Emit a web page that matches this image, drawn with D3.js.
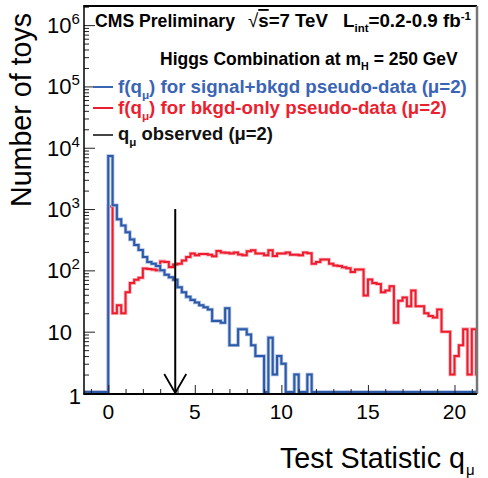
<!DOCTYPE html>
<html>
<head>
<meta charset="utf-8">
<script src="https://cdn.jsdelivr.net/npm/d3@7/dist/d3.min.js"></script>
<style>
  html, body { margin: 0; padding: 0; background: #fff; }
  svg { display: block; font-family: "Liberation Sans", Arial, Helvetica, sans-serif; }
</style>
</head>
<body>
<svg id="chart" width="488" height="478"></svg>
<script>
// ---------------- data ----------------
const binStart = 0;
const binWidth = 0.25;
// f(q_mu) for signal+bkgd pseudo-data (mu=2), counts per bin starting at q=0
const signalBkgd = [7300, 1150, 680, 540, 420, 320, 260, 215, 165, 137, 128, 118, 100, 85, 77, 70,
  53, 44, 37, 33, 30, 27, 25, 23, 15, 15, 14, 24, 6, 6, 11, 11, 9, 6, 4, 4,
  0, 8, 2, 4, 3, 0, 0, 2, 0, 0, 2];
// f(q_mu) for bkgd-only pseudo-data (mu=2)
const bkgdOnly = [1100, 20, 27, 20, 44, 62, 70, 76, 107, 105, 103, 100, 140, 137, 113, 125,
  128, 145, 165, 188, 176, 185, 185, 180, 170, 207, 195, 193, 188, 195, 182, 176,
  205, 213, 188, 188, 176, 213, 172, 188, 188, 195, 180, 180, 176, 195, 190, 128,
  137, 150, 150, 128, 120, 118, 112, 108, 94, 103, 103, 39, 71, 62, 60, 44,
  47, 55, 14, 32, 36, 26, 47, 26, 26, 20, 18, 17, 23, 10, 10, 2, 4, 6,
  11, 2, 11, 2];
const qObserved = 3.87;
const arrowTopValue = 1000;
const xTicksMajor = [0, 5, 10, 15, 20];
const yTickExponents = [0, 1, 2, 3, 4, 5, 6];

// ---------------- layout ----------------
const svg = d3.select("#chart");
const L = 84, R = 477, T = 6, B = 393;
const x = d3.scaleLinear().domain([-1.4, 21.3]).range([L, R]);
const y = d3.scaleLog().domain([1, 2.05e6]).range([B, T]);

const blue = "#2c5aa8", blueHalo = "#a9bde2";
const red = "#ee1c2e", redHalo = "#f8b3b9";

svg.append("defs").append("clipPath").attr("id", "plotclip")
  .append("rect").attr("x", L).attr("y", T).attr("width", R - L).attr("height", B - T + 1);

function histPath(values) {
  const base = B - 1;
  const yy = v => (v >= 1 ? y(v) : base);
  const pts = [[x(x.domain()[0]), base], [x(binStart), base]];
  values.forEach((v, i) => {
    const x0 = x(binStart + i * binWidth), x1 = x(binStart + (i + 1) * binWidth);
    const yv = yy(v);
    pts.push([x0, yv]);
    pts.push([x1, yv]);
  });
  const lastX = x(binStart + values.length * binWidth);
  pts.push([lastX, base]);
  pts.push([x(x.domain()[1]) + 5, base]);
  return d3.line()(pts);
}

const plot = svg.append("g").attr("clip-path", "url(#plotclip)");
plot.append("path").attr("d", histPath(bkgdOnly)).attr("fill", "none")
  .attr("stroke", redHalo).attr("stroke-width", 3.6);
plot.append("path").attr("d", histPath(bkgdOnly)).attr("fill", "none")
  .attr("stroke", red).attr("stroke-width", 2);
plot.append("path").attr("d", histPath(signalBkgd)).attr("fill", "none")
  .attr("stroke", blueHalo).attr("stroke-width", 3.6);
plot.append("path").attr("d", histPath(signalBkgd)).attr("fill", "none")
  .attr("stroke", blue).attr("stroke-width", 2);

// observed arrow
const ax = x(qObserved);
svg.append("line").attr("x1", ax).attr("x2", ax).attr("y1", y(arrowTopValue)).attr("y2", B)
  .attr("stroke", "#000").attr("stroke-width", 2);
svg.append("path").attr("d", d3.line()([[ax - 11, B - 19], [ax, B], [ax + 11, B - 19]]))
  .attr("fill", "none").attr("stroke", "#000").attr("stroke-width", 1.8);

// ---------------- axes ----------------
const yMinor = [];
yTickExponents.forEach(k => { for (let m = 2; m <= 9; m++) { const v = m * Math.pow(10, k); if (v <= y.domain()[1]) yMinor.push(v); } });
const yMajor = yTickExponents.map(k => Math.pow(10, k));

const gyMinor = svg.append("g").attr("transform", `translate(${L},0)`)
  .call(d3.axisRight(y).tickValues(yMinor).tickSize(5).tickFormat(""));
const gyMajor = svg.append("g").attr("transform", `translate(${L},0)`)
  .call(d3.axisRight(y).tickValues(yMajor).tickSize(11).tickFormat(""));
const xMinor = d3.range(-1, 22).filter(v => xTicksMajor.indexOf(v) < 0);
const gxMinor = svg.append("g").attr("transform", `translate(0,${B + 1})`)
  .call(d3.axisTop(x).tickValues(xMinor).tickSize(5).tickFormat(""));
const gxMajor = svg.append("g").attr("transform", `translate(0,${B + 1})`)
  .call(d3.axisTop(x).tickValues(xTicksMajor).tickSize(9).tickFormat(""));
[gyMinor, gyMajor, gxMinor, gxMajor].forEach(g => {
  g.select(".domain").remove();
  g.selectAll(".tick line").attr("stroke", "#222").attr("stroke-width", 1);
});

// frame
svg.append("line").attr("x1", L).attr("x2", L).attr("y1", T).attr("y2", B + 1).attr("stroke", "#000").attr("stroke-width", 1.5);
svg.append("line").attr("x1", L - 0.75).attr("x2", R).attr("y1", T).attr("y2", T).attr("stroke", "#000").attr("stroke-width", 2);
svg.append("line").attr("x1", R).attr("x2", R).attr("y1", T).attr("y2", B + 1).attr("stroke", "#777").attr("stroke-width", 2.5);
svg.append("line").attr("x1", L - 0.75).attr("x2", R).attr("y1", B + 1).attr("y2", B + 1).attr("stroke", "#000").attr("stroke-width", 2);

// fit a text (with tspans) to a target width by scaling every font-size in it
function fit(t, target) {
  const w = t.node().getBBox().width;
  if (!w) return;
  const k = target / w;
  const scale = sel => { const fs = +sel.attr("font-size"); if (fs) sel.attr("font-size", fs * k); };
  scale(t);
  t.selectAll("tspan").each(function () {
    const s = d3.select(this);
    scale(s);
    const dy = s.attr("dy"); if (dy) s.attr("dy", +dy * k);
  });
}

// y tick labels
yTickExponents.forEach(k => {
  const ty = y(Math.pow(10, k)) + 8;
  if (k === 0) {
    svg.append("text").attr("x", 81).attr("y", ty + 3).attr("text-anchor", "end")
      .attr("font-size", 22).text("1");
  } else if (k === 1) {
    svg.append("text").attr("x", 72).attr("y", ty).attr("text-anchor", "end")
      .attr("font-size", 22).text("10");
  } else {
    const t = svg.append("text").attr("x", 47).attr("y", ty).attr("font-size", 22);
    t.append("tspan").text("10");
    t.append("tspan").attr("font-size", 15).attr("dy", -9).text(String(k));
  }
});

// x tick labels
xTicksMajor.forEach(v => {
  svg.append("text").attr("x", x(v)).attr("y", 419).attr("text-anchor", "middle")
    .attr("font-size", 21).text(String(v));
});

// axis titles
const yt = svg.append("text").attr("transform", "translate(31,110) rotate(-90)")
  .attr("text-anchor", "middle").attr("font-size", 28).text("Number of toys");
fit(yt, 194);
const xt = svg.append("text").attr("x", 280).attr("y", 468).attr("font-size", 27).text("Test Statistic q");
fit(xt, 185);
svg.append("text").attr("x", 280 + 185 + 1).attr("y", 475).attr("font-size", 15).text("μ");

// ---------------- header / legend ----------------
const hdr = svg.append("g").attr("font-weight", "bold");
const cms = hdr.append("text").attr("x", 95).attr("y", 27).attr("font-size", 18).text("CMS Preliminary");
fit(cms, 140);
const rs = hdr.append("text").attr("x", 248).attr("y", 27).attr("font-size", 18);
rs.append("tspan").attr("font-weight", "normal").text("√");
rs.append("tspan").attr("text-decoration", "overline").text("s");
rs.append("tspan").text("=7 TeV");
fit(rs, 80);
const lum = hdr.append("text").attr("x", 343).attr("y", 27).attr("font-size", 18);
lum.append("tspan").text("L");
lum.append("tspan").attr("font-size", 11).attr("dy", 5).text("int");
lum.append("tspan").attr("dy", -5).text("=0.2-0.9 fb");
lum.append("tspan").attr("font-size", 11).attr("dy", -7).text("-1");
fit(lum, 128);

const hg = hdr.append("text").attr("x", 160).attr("y", 65).attr("font-size", 18);
hg.append("tspan").text("Higgs Combination at m");
hg.append("tspan").attr("font-size", 11).attr("dy", 5).text("H");
hg.append("tspan").attr("dy", -5).text(" = 250 GeV");
fit(hg, 298);

const legend = [
  { color: "#3a64b4", lineY: 87, textY: 93, width: 349, parts: [["f(q", 0], ["μ", 1], [") for signal+bkgd pseudo-data (μ=2)", 0]] },
  { color: "#ec1f30", lineY: 108, textY: 114, width: 329, parts: [["f(q", 0], ["μ", 1], [") for bkgd-only pseudo-data (μ=2)", 0]] },
  { color: "#111", lineY: 135, textY: 140, width: 155, parts: [["q", 0], ["μ", 1], [" observed (μ=2)", 0]] }
];
legend.forEach(e => {
  svg.append("line").attr("x1", 93).attr("x2", 113).attr("y1", e.lineY).attr("y2", e.lineY)
    .attr("stroke", e.color === "#111" ? "#444" : e.color).attr("stroke-width", 2);
  const t = hdr.append("text").attr("x", 118).attr("y", e.textY).attr("font-size", 19).attr("fill", e.color);
  let sub = false;
  e.parts.forEach(([s, isSub]) => {
    const ts = t.append("tspan").text(s);
    if (isSub && !sub) { ts.attr("font-size", 12).attr("dy", 6); sub = true; }
    else if (!isSub && sub) { ts.attr("dy", -6); sub = false; }
  });
  fit(t, e.width);
});
</script>
</body>
</html>
